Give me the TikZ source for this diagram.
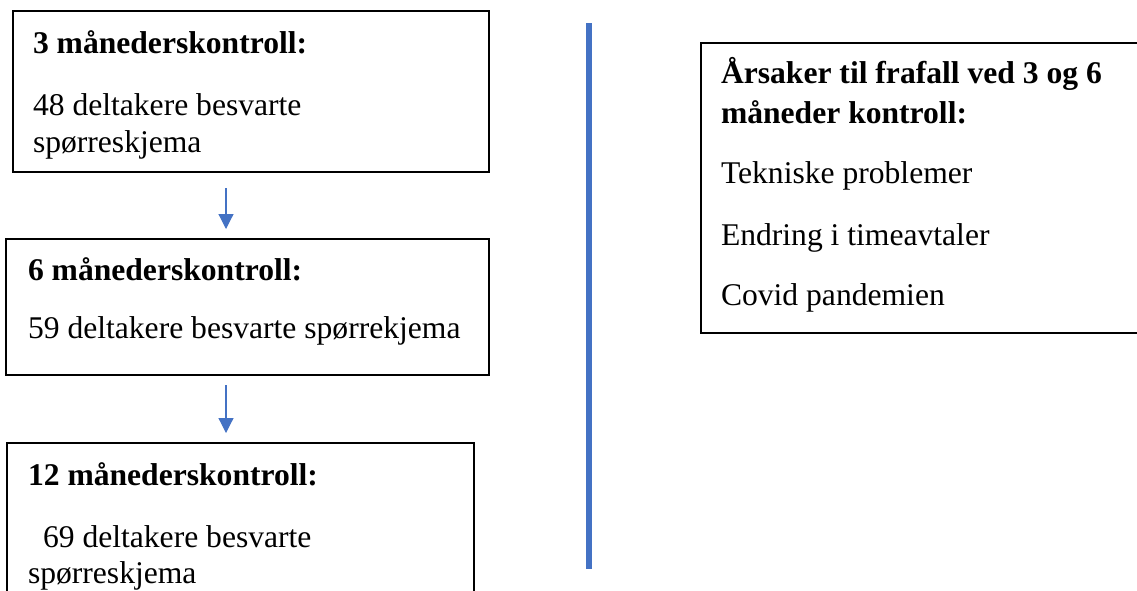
\documentclass[tikz,border=0pt]{standalone}
\usepackage{fontspec}
\setmainfont{Liberation Serif}
\usetikzlibrary{arrows.meta}
\definecolor{flowblue}{RGB}{68,114,196}
\tikzset{
  panel/.style={draw=black, line width=2.4pt, rectangle, inner sep=0pt, outer sep=0pt, anchor=north west},
  txt/.style={anchor=base west, inner sep=0pt, outer sep=0pt, font=\fontsize{31.6}{37}\selectfont},
  head/.style={txt, font=\fontsize{31.6}{37}\selectfont\bfseries},
  arr/.style={draw=flowblue, line width=1.2pt, -{Triangle[width=15pt,length=15pt]}},
  divider/.style={draw=flowblue, line width=6pt}
}
\begin{document}
\begin{tikzpicture}[x=1pt, y=-1pt]
  \useasboundingbox (0,0) rectangle (1137,590);
  \clip (0,0) rectangle (1137,590);

  % follow-up stages
  \node[panel, minimum width=476pt, minimum height=161pt] (box1) at (13,11) {};
  \node[panel, minimum width=483pt, minimum height=136pt] (box2) at (6,239) {};
  \node[panel, minimum width=467pt, minimum height=190pt] (box3) at (7,443) {};

  \node[head] (t1) at (33,53) {3 månederskontroll:};
  \node[txt] (b1a) at (33,115) {48 deltakere besvarte};
  \node[txt] (b1b) at (33,152) {spørreskjema};

  \node[head] (t2) at (28,280) {6 månederskontroll:};
  \node[txt] (b2) at (28,338) {59 deltakere besvarte spørrekjema};

  \node[head] (t3) at (28,485) {12 månederskontroll:};
  \node[txt] (b3a) at (43,547) {69 deltakere besvarte};
  \node[txt] (b3b) at (28,583) {spørreskjema};

  % arrows between stages
  \coordinate (a1s) at (226,188);
  \coordinate (a1e) at (226,229);
  \coordinate (a2s) at (226,385);
  \coordinate (a2e) at (226,433);
  \draw[arr] (a1s) -- (a1e);
  \draw[arr] (a2s) -- (a2e);

  % separator
  \coordinate (d1) at (589,23);
  \coordinate (d2) at (589,569);
  \draw[divider] (d1) -- (d2);

  % reasons for dropout
  \node[panel, minimum width=470pt, minimum height=290pt] (box4) at (701,43) {};
  \node[head] (t4a) at (721,83) {Årsaker til frafall ved 3 og 6};
  \node[head] (t4b) at (721,123) {måneder kontroll:};
  \node[txt] (r1) at (721,183) {Tekniske problemer};
  \node[txt] (r2) at (721,245) {Endring i timeavtaler};
  \node[txt] (r3) at (721,305) {Covid pandemien};
\end{tikzpicture}
\end{document}
